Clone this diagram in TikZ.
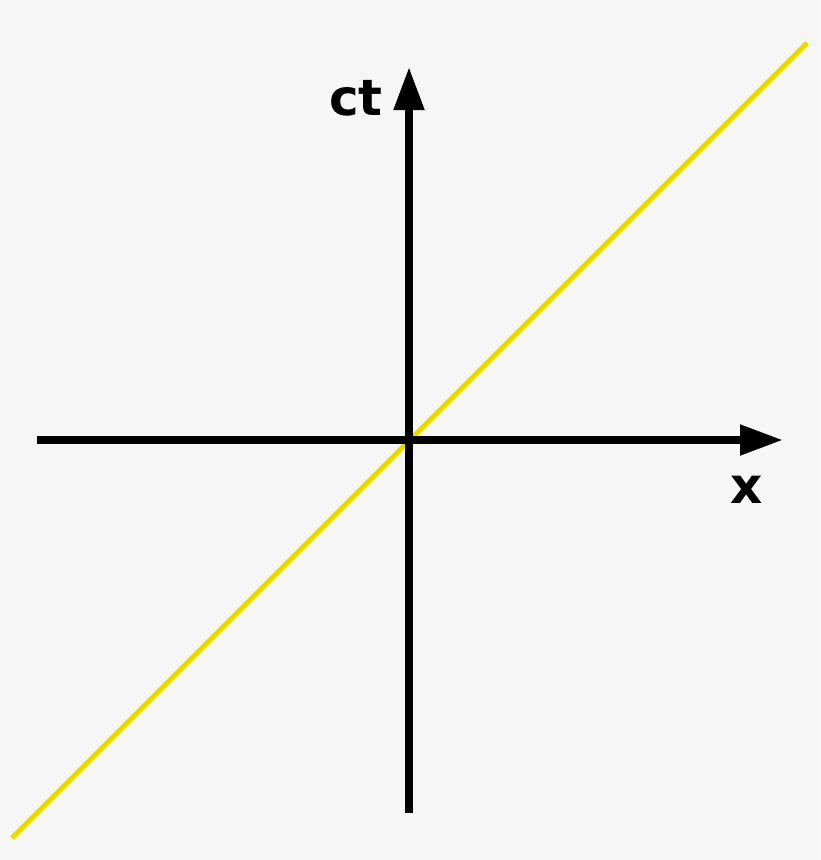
\documentclass[tikz,border=0pt]{standalone}
\usepackage{fontspec}
\setmainfont{DejaVu Sans}
\usetikzlibrary{arrows.meta}
\definecolor{bgcol}{RGB}{246,246,246}
\definecolor{worldline}{RGB}{230,220,0}
\tikzset{
  axis/.style={line width=8pt, black, -{Triangle[length=43pt,width=29pt]}},
  lightray/.style={line width=5pt, worldline},
  axlabel/.style={font=\fontsize{50}{50}\selectfont\bfseries, inner sep=0pt, anchor=base}
}
\begin{document}
\begin{tikzpicture}[x=1pt,y=-1pt]
  \fill[bgcol] (0,0) rectangle (820,860);
  \useasboundingbox (0,0) rectangle (820,860);
  \coordinate (rayA) at (12,838);
  \coordinate (rayB) at (807,43);
  \coordinate (xL) at (37,440);
  \coordinate (xR) at (783,440);
  \coordinate (tB) at (409,813);
  \coordinate (tT) at (409,67);
  \draw[lightray] (rayA) -- (rayB);
  \draw[axis] (xL) -- (xR);
  \draw[axis] (tB) -- (tT);
  \node[axlabel] (ctlabel) at (356,115) {ct};
  \node[axlabel] (xlabel) at (747,503) {x};
\end{tikzpicture}
\end{document}
